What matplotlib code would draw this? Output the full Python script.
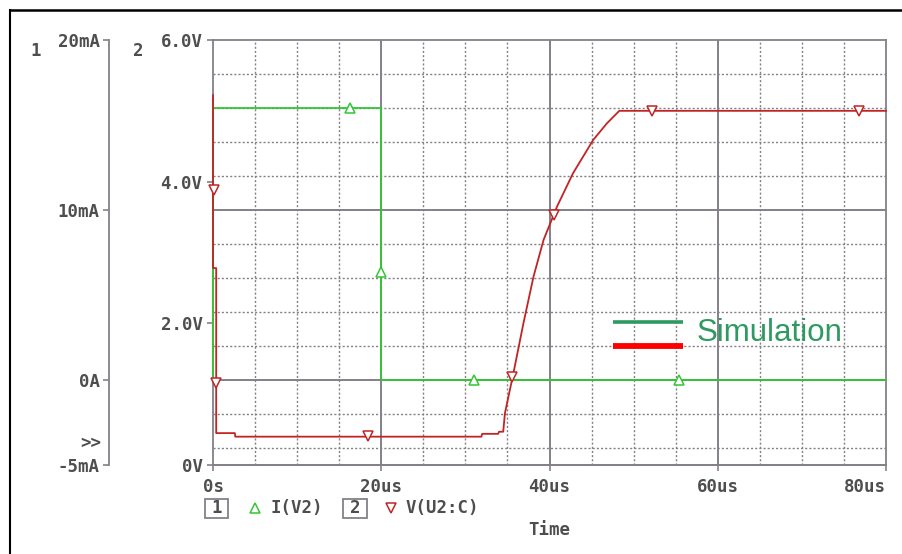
import matplotlib
matplotlib.use("Agg")
import matplotlib.pyplot as plt
from matplotlib.lines import Line2D
from matplotlib.patches import Rectangle

# ---------------- data ----------------
# I(V2) current trace (time in us, current in mA)
i_t = [0.0, 0.0, 20.0, 20.0, 80.0]
i_mA = [0.0, 16.0, 16.0, 0.0, 0.0]
# V(U2:C) voltage trace (time in us, volts)
v_t = [0.0, 0.0, 0.38, 0.38, 2.6, 2.65, 31.9, 32.0, 33.9, 34.0, 34.5, 34.7,
       35.7, 36.9, 38.1, 39.3, 40.9, 42.8, 45.2, 46.8, 48.3, 80.0]
v_V = [5.22, 2.78, 2.78, 0.45, 0.45, 0.40, 0.40, 0.44, 0.44, 0.47, 0.47, 0.73,
       1.29, 2.00, 2.66, 3.18, 3.65, 4.12, 4.59, 4.82, 5.00, 5.00]
# trace symbols
mk_i_t = [16.3, 20.0, 31.0, 55.4]
mk_i_v = [16.0, 6.35, 0.0, 0.0]
mk_v_t = [0.1, 0.38, 18.4, 35.5, 40.5, 52.2, 76.8]
mk_v_v = [3.88, 1.16, 0.41, 1.24, 3.53, 5.0, 5.0]

x_ticks = [0, 20, 40, 60, 80]
x_labels = ["0s", "20us", "40us", "60us", "80us"]
i_ticks = [-5, 0, 10, 20]
i_labels = ["-5mA", "0A", "10mA", "20mA"]
v_ticks = [0, 2, 4, 6]
v_labels = ["0V", "2.0V", "4.0V", "6.0V"]
x_grid = [5, 10, 15, 20, 25, 30, 35, 40, 45, 50, 55, 60, 65, 70, 75]
x_grid_major = [20, 40, 60]
i_grid = [-4, -2, 0, 2, 4, 6, 8, 10, 12, 14, 16, 18]
i_grid_major = [0, 10]
legend_names = ["I(V2)", "V(U2:C)"]
overlay_label = "Simulation"

# ---------------- style ----------------
W, H = 902, 554
GREEN = "#33c633"
RED = "#c02424"
GRAY = "#858088"
TXT = "#4e4e4e"
MONO = {"family": "DejaVu Sans Mono", "weight": "bold", "size": 12.5, "color": TXT}

def fx(px):
    return px / W

def fy(py):
    return 1 - py / H

fig = plt.figure(figsize=(W / 100, H / 100), dpi=100, facecolor="white")
L, R, T, B = 213, 886, 40, 465
ax = fig.add_axes([fx(L), fy(B), fx(R - L), (B - T) / H])
axv = ax.twinx()

# current axis (main): grid, spine and ticks
ax.set_xlim(0, 80)
ax.set_ylim(-5, 20)
ax.spines["left"].set_position(("axes", (109.3 - L) / (R - L)))
ax.spines["right"].set_visible(False)
ax.spines["top"].set_visible(False)
for s in ("left", "bottom"):
    ax.spines[s].set_color(GRAY)
    ax.spines[s].set_linewidth(1.3)
for xv in x_grid:
    if xv in x_grid_major:
        ax.axvline(xv, color=GRAY, lw=1.4, zorder=1)
    else:
        ax.axvline(xv, color=GRAY, lw=1.0, ls=(0, (1.5, 1.5)), zorder=1)
for yv in i_grid:
    if yv in i_grid_major:
        ax.axhline(yv, color=GRAY, lw=1.4, zorder=1)
    else:
        ax.axhline(yv, color=GRAY, lw=1.0, ls=(0, (1.5, 1.5)), zorder=1)

ax.set_yticks(i_ticks)
ax.set_yticklabels(i_labels, fontdict=MONO)
ax.set_xticks(x_ticks)
ax.set_xticklabels(x_labels, fontdict=MONO)
ax.get_xticklabels()[-1].set_horizontalalignment("right")
ax.tick_params(axis="both", direction="out", length=4.5, width=1.2,
               color=GRAY, pad=2.5)
ax.tick_params(axis="x", pad=5)
ax.set_xlabel("Time", fontdict=MONO, labelpad=18)

# voltage axis (twin, drawn on top); both traces drawn here so they sit above spines
axv.set_ylim(0, 6)
axv.plot(i_t, i_mA, color=GREEN, lw=1.3, zorder=3, transform=ax.transData,
         clip_on=False)
axv.plot(mk_i_t, mk_i_v, ls="none", marker="^", ms=7, mfc="white",
         mec=GREEN, mew=1.1, zorder=4, transform=ax.transData, clip_on=False)
axv.plot(v_t, v_V, color=RED, lw=1.3, zorder=5, clip_on=False)
axv.plot(mk_v_t, mk_v_v, ls="none", marker="v", ms=7, mfc="white",
         mec=RED, mew=1.1, zorder=6, clip_on=False)
axv.yaxis.set_ticks_position("left")
axv.set_yticks(v_ticks)
axv.set_yticklabels(v_labels, fontdict=MONO)
axv.tick_params(axis="y", direction="out", length=4.5, width=1.2,
                color=GRAY, pad=3)
for s in ("left", "right", "top", "bottom"):
    axv.spines[s].set_color(GRAY)
    axv.spines[s].set_linewidth(1.3)

# axis numbers
fig.text(fx(35.5), fy(51), "1", ha="center", va="center", fontdict=MONO)
fig.text(fx(138), fy(51), "2", ha="center", va="center", fontdict=MONO)
fig.text(fx(101), fy(443), ">>", ha="right", va="center", fontdict=MONO)

# trace legend row
legend_y = 508
box_specs = [(205, "1"), (343, "2")]
for bx, lab in box_specs:
    fig.add_artist(Rectangle((fx(bx), fy(518)), fx(23.5), 19.5 / H,
                             transform=fig.transFigure, fill=False,
                             ec=GRAY, lw=1.3))
    fig.text(fx(bx + 12), fy(legend_y), lab, ha="center", va="center",
             fontdict=MONO)
fig.add_artist(Line2D([fx(254.5)], [fy(legend_y)], marker="^", ms=7,
                      mfc="white", mec=GREEN, mew=1.1, ls="none",
                      transform=fig.transFigure))
fig.text(fx(271), fy(legend_y), legend_names[0], ha="left", va="center",
         fontdict=MONO)
fig.add_artist(Line2D([fx(390.5)], [fy(legend_y)], marker="v", ms=7,
                      mfc="white", mec=RED, mew=1.1, ls="none",
                      transform=fig.transFigure))
fig.text(fx(406), fy(legend_y), legend_names[1], ha="left", va="center",
         fontdict=MONO)

# "Simulation" overlay annotation
fig.add_artist(Line2D([fx(613), fx(683)], [fy(321.5), fy(321.5)],
                      color="#2e9a62", lw=2.6, solid_capstyle="butt",
                      transform=fig.transFigure))
fig.add_artist(Line2D([fx(613), fx(683)], [fy(346), fy(346)],
                      color="#ff0000", lw=4.2, solid_capstyle="butt",
                      transform=fig.transFigure))
fig.text(fx(697), fy(333), overlay_label, ha="left", va="center",
         family="Liberation Sans", size=22.5, color="#2e9a62")

# outer black frame
fig.add_artist(Line2D([fx(10), fx(902)], [fy(10), fy(10)], color="black",
                      lw=1.8, transform=fig.transFigure))
fig.add_artist(Line2D([fx(10), fx(10)], [fy(10), fy(554)], color="black",
                      lw=1.5, transform=fig.transFigure))

fig.savefig("out.png", dpi=100, facecolor="white")
